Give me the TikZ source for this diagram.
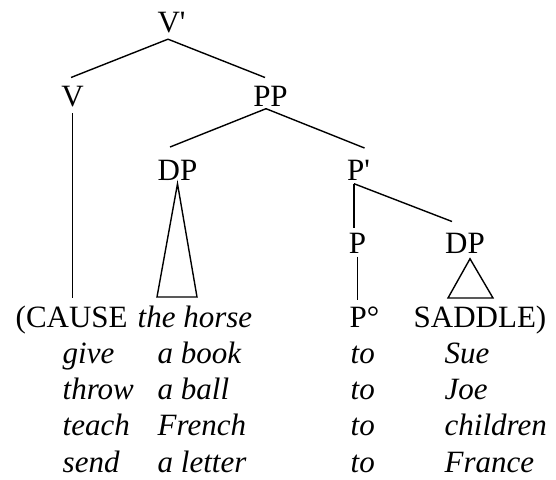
\documentclass[tikz,border=0pt]{standalone}
\usepackage{fontspec}
\setmainfont{Liberation Serif}
\usepackage{tikz}

\begin{document}
\begin{tikzpicture}
  [x=1pt,y=-1pt,line width=1.4pt,
   cat/.style={anchor=base,inner sep=0pt,font=\fontsize{31}{37}\selectfont},
   lex/.style={anchor=base west,inner sep=0pt,font=\fontsize{31}{37}\selectfont},
   gloss/.style={lex,font=\fontsize{31}{37}\selectfont\itshape}]
  \useasboundingbox (0,0) rectangle (556,479);
  % tree
  \node[cat] (vbar) at (171.5,32) {V\textquotesingle};
  \node[cat] (v) at (72.5,106) {V};
  \node[cat] (pp) at (270.5,106) {PP};
  \node[cat] (dp) at (177.5,180) {DP};
  \node[cat] (pbar) at (358.5,180) {P\textquotesingle};
  \node[cat] (p) at (357.5,253) {P};
  \node[cat] (dpsad) at (465,253) {DP};
  % bottom line
  \node[lex] (cause) at (15,327) {(CAUSE};
  \node[gloss] (horse) at (137,327) {the horse};
  \node[lex] (pzero) at (349,327) {P°};
  \node[lex] (saddle) at (413,327) {SADDLE)};
  \foreach \vb/\ob/\gl [count=\i] in {give/a book/Sue,throw/a ball/Joe,
      teach/French/children,send/a letter/France} {
    \node[gloss] (verb\i) at (62,327+36.25*\i) {\vb};
    \node[gloss] (obj\i) at (157,327+36.25*\i) {\ob};
    \node[gloss] (to\i) at (350,327+36.25*\i) {to};
    \node[gloss] (goal\i) at (444,327+36.25*\i) {\gl};
  }
  \coordinate (dpl) at (157,297);
  \coordinate (dpr) at (197,297);
  \coordinate (sadl) at (448,298);
  \coordinate (sadr) at (493,298);
  \draw ([xshift=-3.5pt,yshift=-6pt]vbar.south) -- ([xshift=-1.5pt,yshift=7.5pt]v.north);
  \draw ([xshift=-3.5pt,yshift=-6pt]vbar.south) -- ([xshift=-5.5pt,yshift=7.5pt]pp.north);
  \draw ([xshift=-4.5pt,yshift=-2pt]pp.south) -- ([xshift=-7.5pt,yshift=12pt]dp.north);
  \draw ([xshift=-4.5pt,yshift=-2pt]pp.south) -- ([xshift=6pt,yshift=11pt]pbar.north);
  \draw ([xshift=-4.5pt,yshift=-3pt]pbar.south) -- ([xshift=-3.5pt,yshift=4.5pt]p.north);
  \draw ([xshift=-4.5pt,yshift=-3pt]pbar.south) -- ([xshift=-13pt,yshift=10.5pt]dpsad.north);
  \draw ([yshift=-6pt]v.south) -- ([yshift=6.5pt]v.south |- cause.north);
  \draw ([yshift=-3pt]p.south) -- ([yshift=5.5pt]p.south |- pzero.north);
  \draw ([yshift=-3pt]dp.south) -- (dpl) -- (dpr) -- cycle;
  \draw ([xshift=5pt,yshift=-5pt]dpsad.south) -- (sadl) -- (sadr) -- cycle;
\end{tikzpicture}
\end{document}
